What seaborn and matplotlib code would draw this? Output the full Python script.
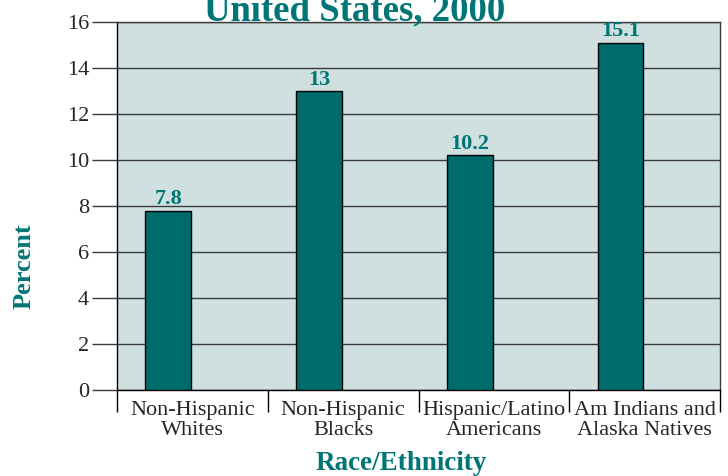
import matplotlib
matplotlib.use("Agg")
import matplotlib.pyplot as plt
import seaborn as sns
import pandas as pd
from matplotlib.ticker import FixedLocator

# === DATA ===
groups = ["Non-Hispanic\nWhites", "Non-Hispanic\nBlacks", "Hispanic/Latino\nAmericans",
          "Am Indians and\nAlaska Natives"]
percent = [7.8, 13, 10.2, 15.1]
y_ticks = [0, 2, 4, 6, 8, 10, 12, 14, 16]

# Colors
bar_color = "#006b6b"
text_teal = "#007575"
panel_bg = "#d0e0e0"

sns.set_style("white")
plt.rcParams["font.family"] = ["Liberation Serif", "DejaVu Serif"]

df = pd.DataFrame({"group": groups, "percent": percent})

fig = plt.figure(figsize=(7.28, 4.76), dpi=100)
ax = fig.add_axes([117 / 728, 1 - 390 / 476, 603 / 728, 368 / 476])
ax.set_facecolor(panel_bg)

sns.barplot(data=df, x="group", y="percent", color=bar_color, saturation=1,
            width=0.305, edgecolor="black", linewidth=1, ax=ax, zorder=3)

# value labels on top of bars
ax.bar_label(ax.containers[0], fmt="%g", padding=1, fontsize=16,
             fontweight="bold", color=text_teal)

# bars sit a bit left of the category centre
ax.set_xlim(-0.34, 3.66)
ax.set_ylim(0, 16)
ax.set_yticks(y_ticks)
ax.yaxis.grid(True, color="#3a3a3a", linewidth=1)
ax.set_axisbelow(True)

ax.xaxis.set_major_locator(FixedLocator([i + 0.16 for i in range(4)]))
ax.set_xticklabels(groups)
ax.xaxis.set_minor_locator(FixedLocator([i - 0.34 for i in range(5)]))
ax.tick_params(axis="x", which="major", length=0, pad=8, labelsize=16)
ax.tick_params(axis="x", which="minor", length=16, width=1, color="black", bottom=True)
ax.tick_params(axis="y", length=18, width=1, color="#3a3a3a", pad=2, labelsize=16,
               left=True)
for lab in ax.get_xticklabels():
    lab.set_linespacing(1.05)

for side in ["top", "right"]:
    ax.spines[side].set_color("#3a3a3a")
for side in ["left", "bottom"]:
    ax.spines[side].set_color("black")
for sp in ax.spines.values():
    sp.set_linewidth(1)
    sp.set_visible(True)

ax.set_xlabel("Race/Ethnicity", fontsize=19.5, fontweight="bold", color=text_teal)
ax.xaxis.set_label_coords(0.471, -0.165)
ax.set_ylabel("Percent", fontsize=19, fontweight="bold", color=text_teal)
ax.yaxis.set_label_coords(-0.135, 0.337)

# title is clipped at the top edge in the reference
fig.text(355 / 728, 1 - 20 / 476, "United States, 2000", ha="center", va="baseline",
         fontsize=26.5, fontweight="bold", color=text_teal)

fig.savefig("out.png", dpi=100)
